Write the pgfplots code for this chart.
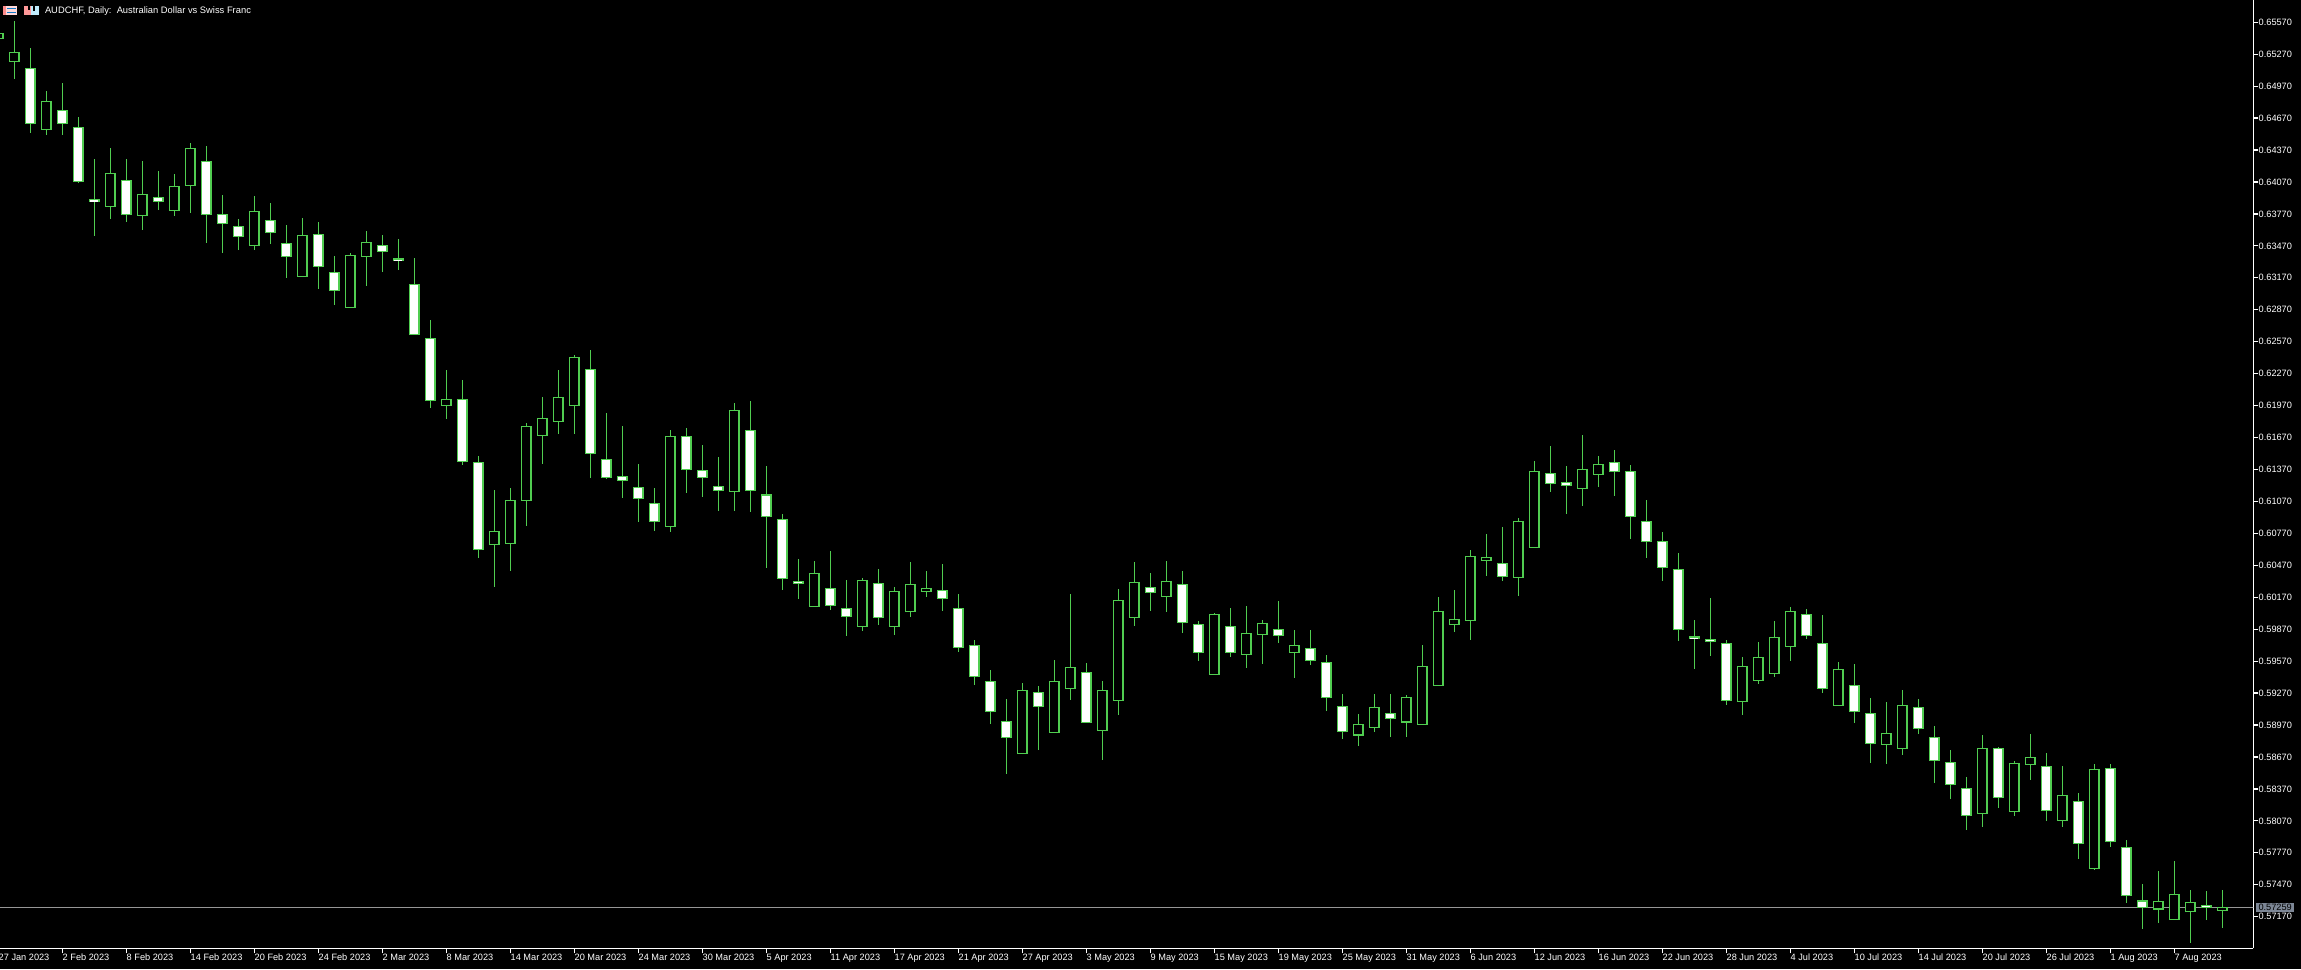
\documentclass[border=0pt]{standalone}
\usepackage{pgfplots}
\usepackage{pgfplotstable}
\usepackage{fontspec}
\setmainfont{Liberation Sans}
\pgfplotsset{compat=1.18}

\definecolor{candle}{RGB}{80,205,80}
\definecolor{priceline}{RGB}{150,150,150}
\definecolor{pricebox}{RGB}{125,135,150}

% down days (white body)
\pgfplotstableread{
i o h l c
2 .65134 .65325 .64533 .64621
4 .64740 .64999 .64508 .64621
5 .64583 .64680 .64063 .64073
6 .63907 .64286 .63563 .63888
8 .64082 .64286 .63697 .63766
10 .63926 .64173 .63807 .63888
13 .64264 .64408 .63497 .63766
14 .63763 .63948 .63403 .63682
15 .63650 .63722 .63431 .63559
17 .63707 .63876 .63487 .63597
18 .63491 .63666 .63168 .63372
20 .63575 .63694 .63068 .63278
21 .63218 .63375 .62918 .63052
24 .63472 .63572 .63228 .63415
25 .63347 .63534 .63243 .63331
26 .63109 .63356 .62633 .62639
27 .62602 .62774 .61950 .62019
29 .62029 .62210 .61412 .61446
30 .61437 .61496 .60539 .60620
37 .62310 .62492 .61287 .61522
38 .61465 .61900 .61277 .61296
39 .61305 .61778 .61102 .61268
40 .61202 .61421 .60877 .61099
41 .61052 .61196 .60792 .60883
43 .61681 .61759 .61149 .61371
44 .61362 .61600 .61111 .61296
45 .61212 .61487 .60980 .61174
47 .61738 .62013 .60971 .61174
48 .61133 .61403 .60448 .60930
49 .60902 .60952 .60238 .60344
50 .60319 .60529 .60157 .60301
52 .60251 .60604 .60050 .60094
53 .60066 .60332 .59806 .59991
55 .60301 .60435 .59909 .59981
59 .60232 .60482 .60041 .60160
60 .60066 .60200 .59656 .59700
61 .59718 .59765 .59346 .59427
62 .59380 .59487 .58980 .59099
63 .59005 .59214 .58510 .58854
65 .59274 .59336 .58735 .59145
68 .59461 .59552 .58986 .58995
72 .60263 .60398 .60041 .60216
74 .60291 .60416 .59834 .59934
75 .59916 .59947 .59571 .59653
77 .59897 .60069 .59609 .59653
80 .59869 .60135 .59740 .59812
82 .59687 .59862 .59534 .59578
83 .59559 .59627 .59102 .59230
84 .59142 .59261 .58839 .58911
87 .59080 .59261 .58857 .59033
94 .60485 .60830 .60322 .60366
97 .61334 .61590 .61155 .61240
98 .61249 .61403 .60952 .61221
101 .61437 .61553 .61121 .61352
102 .61352 .61412 .60717 .60930
103 .60883 .61083 .60539 .60695
104 .60695 .60783 .60319 .60451
105 .60432 .60585 .59759 .59869
106 .59797 .59956 .59496 .59781
107 .59775 .60163 .59618 .59756
108 .59737 .59768 .59158 .59199
113 .60006 .60060 .59778 .59812
114 .59737 .60003 .59274 .59315
116 .59339 .59540 .58989 .59099
117 .59077 .59224 .58613 .58798
120 .59136 .59217 .58886 .58939
121 .58854 .58961 .58425 .58638
122 .58616 .58735 .58275 .58413
123 .58372 .58482 .57981 .58122
125 .58751 .58767 .58194 .58291
128 .58582 .58704 .58069 .58169
130 .58253 .58332 .57712 .57859
132 .58560 .58607 .57824 .57878
133 .57821 .57890 .57298 .57371
134 .57320 .57477 .57054 .57261
138 .57277 .57411 .57139 .57261
}\downdays

% up days (hollow body)
\pgfplotstableread{
i o h l c
0 .65416 .65466 .65416 .65466
1 .65200 .65582 .65040 .65288
3 .64564 .64927 .64514 .64827
7 .63838 .64389 .63725 .64151
9 .63754 .64267 .63619 .63954
11 .63801 .64145 .63754 .64029
12 .64038 .64433 .63782 .64386
16 .63472 .63941 .63431 .63794
19 .63181 .63732 .63181 .63569
22 .62893 .63400 .62893 .63381
23 .63372 .63610 .63093 .63503
28 .61972 .62304 .61841 .62029
31 .60667 .61177 .60266 .60789
32 .60676 .61196 .60416 .61080
33 .61080 .61809 .60839 .61775
34 .61691 .62051 .61424 .61850
35 .61822 .62304 .61706 .62047
36 .61972 .62445 .61703 .62423
42 .60836 .61741 .60783 .61681
46 .61165 .61994 .60980 .61925
51 .60081 .60510 .60081 .60394
54 .59897 .60351 .59853 .60329
56 .59894 .60263 .59815 .60225
57 .60038 .60504 .59984 .60291
58 .60222 .60420 .60172 .60254
64 .58701 .59365 .58701 .59296
66 .58901 .59581 .58898 .59380
67 .59315 .60200 .59205 .59512
69 .58920 .59380 .58645 .59296
70 .59202 .60247 .59064 .60141
71 .59981 .60504 .59900 .60310
73 .60179 .60510 .60031 .60319
76 .59446 .60019 .59443 .60009
78 .59634 .60088 .59505 .59831
79 .59822 .59956 .59543 .59925
81 .59649 .59862 .59411 .59718
85 .58879 .59076 .58773 .58976
86 .58948 .59261 .58904 .59136
88 .59001 .59249 .58857 .59230
89 .58976 .59721 .58973 .59521
90 .59339 .60172 .59336 .60038
91 .59916 .60238 .59844 .59963
92 .59953 .60614 .59768 .60554
93 .60517 .60764 .60369 .60545
95 .60357 .60914 .60182 .60883
96 .60639 .61449 .60636 .61352
99 .61193 .61694 .61024 .61371
100 .61324 .61496 .61205 .61418
109 .59189 .59609 .59064 .59521
110 .59390 .59753 .59355 .59606
111 .59455 .59947 .59421 .59793
112 .59709 .60075 .59571 .60038
115 .59155 .59562 .59152 .59493
118 .58789 .59186 .58601 .58892
119 .58751 .59299 .58688 .59155
124 .58140 .58876 .58012 .58751
126 .58159 .58632 .58116 .58610
127 .58601 .58886 .58454 .58667
129 .58075 .58585 .58009 .58310
131 .57624 .58607 .57608 .58554
135 .57245 .57599 .57111 .57314
136 .57145 .57693 .57145 .57380
137 .57220 .57420 .56923 .57302
139 .57230 .57420 .57064 .57258
}\updays

\pgfplotsset{
  wick/.style={draw=none, mark=none, forget plot,
    error bars/.cd, y dir=both, y explicit, error mark=none,
    error bar style={draw=candle, line width=0.65pt}},
  bodyedge/.style={draw=none, mark=none, forget plot,
    error bars/.cd, y dir=both, y explicit, error mark=none,
    error bar style={draw=candle, line width=5.4pt}},
  bodyfill/.style={draw=none, mark=none, forget plot,
    error bars/.cd, y dir=both, y explicit, error mark=none,
    error bar style={draw=#1, line width=4.1pt}},
}

\begin{document}
\begin{tikzpicture}
\fill[black] (0,0) rectangle (1150.5pt,-484.5pt);
\useasboundingbox (0,0) rectangle (1150.5pt,-484.5pt);
\clip (0,0) rectangle (1150.5pt,-484.5pt);
\begin{axis}[
    at={(-4.835pt,0pt)}, anchor=north west,
    scale only axis,
    width=1131.49pt, height=474.15pt,
    xmin=-0.5, xmax=140.94,
    ymin=0.56873, ymax=0.65779,
    axis x line*=bottom, axis y line*=right,
    axis line style={white, line width=0.65pt},
    every tick/.style={white, line width=0.6pt},
    tick align=outside,
    major tick length=2.5pt,
    scaled y ticks=false,
    xtick={0,4,...,136},
    xticklabels={27 Jan 2023,2 Feb 2023,8 Feb 2023,14 Feb 2023,20 Feb 2023,24 Feb 2023,2 Mar 2023,8 Mar 2023,14 Mar 2023,20 Mar 2023,24 Mar 2023,30 Mar 2023,5 Apr 2023,11 Apr 2023,17 Apr 2023,21 Apr 2023,27 Apr 2023,3 May 2023,9 May 2023,15 May 2023,19 May 2023,25 May 2023,31 May 2023,6 Jun 2023,12 Jun 2023,16 Jun 2023,22 Jun 2023,28 Jun 2023,4 Jul 2023,10 Jul 2023,14 Jul 2023,20 Jul 2023,26 Jul 2023,1 Aug 2023,7 Aug 2023},
    xticklabel style={anchor=north west, inner sep=0pt, text=white, font=\fontsize{4.6pt}{5.5pt}\selectfont},
    ytick={0.5717,0.5747,0.5777,0.5807,0.5837,0.5867,0.5897,0.5927,0.5957,0.5987,0.6017,0.6047,0.6077,0.6107,0.6137,0.6167,0.6197,0.6227,0.6257,0.6287,0.6317,0.6347,0.6377,0.6407,0.6437,0.6467,0.6497,0.6527,0.6557},
    yticklabel style={anchor=west, inner sep=0pt, text=white, font=\fontsize{4.6pt}{5.5pt}\selectfont,
      /pgf/number format/fixed, /pgf/number format/fixed zerofill, /pgf/number format/precision=5, /pgf/number format/assume math mode=true},
    extra y ticks={0.57259},
    extra y tick style={major tick length=0pt,
      yticklabel style={fill=pricebox, text=black, inner xsep=1.2pt, inner ysep=0.6pt, xshift=1.2pt}},
]
% bid line
\addplot[priceline, line width=0.6pt, forget plot] coordinates {(-1,0.57259) (141,0.57259)};

% wicks
\addplot[wick] table[x=i, y expr=(\thisrow{h}+\thisrow{l})/2, y error expr=(\thisrow{h}-\thisrow{l})/2] {\downdays};
\addplot[wick] table[x=i, y expr=(\thisrow{h}+\thisrow{l})/2, y error expr=(\thisrow{h}-\thisrow{l})/2] {\updays};

% bodies: green edge, then the inside on top of it
\addplot[bodyedge] table[x=i, y expr=(\thisrow{o}+\thisrow{c})/2, y error expr=abs(\thisrow{o}-\thisrow{c})/2+0.00006] {\downdays};
\addplot[bodyedge] table[x=i, y expr=(\thisrow{o}+\thisrow{c})/2, y error expr=abs(\thisrow{o}-\thisrow{c})/2+0.00006] {\updays};
\addplot[bodyfill=white] table[x=i, y expr=(\thisrow{o}+\thisrow{c})/2, y error expr={max(abs(\thisrow{o}-\thisrow{c})/2-0.00006,0)}] {\downdays};
\addplot[bodyfill=black] table[x=i, y expr=(\thisrow{o}+\thisrow{c})/2, y error expr={max(abs(\thisrow{o}-\thisrow{c})/2-0.00006,0)}] {\updays};
\end{axis}

% toolbar icons and chart caption
\fill[white!85!red] (1.5pt,-3pt) rectangle (8.5pt,-7.6pt);
\fill[red!45!white] (1.5pt,-3pt) rectangle (3pt,-7.6pt);
\fill[cyan!60!blue] (3.5pt,-4.2pt) rectangle (8pt,-4.7pt);
\fill[cyan!60!blue] (3.5pt,-5.8pt) rectangle (8pt,-6.3pt);
\fill[red!40!white] (12pt,-3pt) rectangle (15.5pt,-7.6pt);
\fill[cyan!25!white] (15.5pt,-3pt) rectangle (19.5pt,-7.6pt);
\fill[black] (14pt,-3pt) rectangle (15pt,-5pt);
\fill[black] (16.5pt,-3pt) rectangle (17.5pt,-5.5pt);
\node[anchor=west, inner sep=0pt, text=white, font=\fontsize{4.68pt}{5.5pt}\selectfont]
  at (22.3pt,-5.4pt) {AUDCHF, Daily:\ \ Australian Dollar vs Swiss Franc};
\end{tikzpicture}
\end{document}
